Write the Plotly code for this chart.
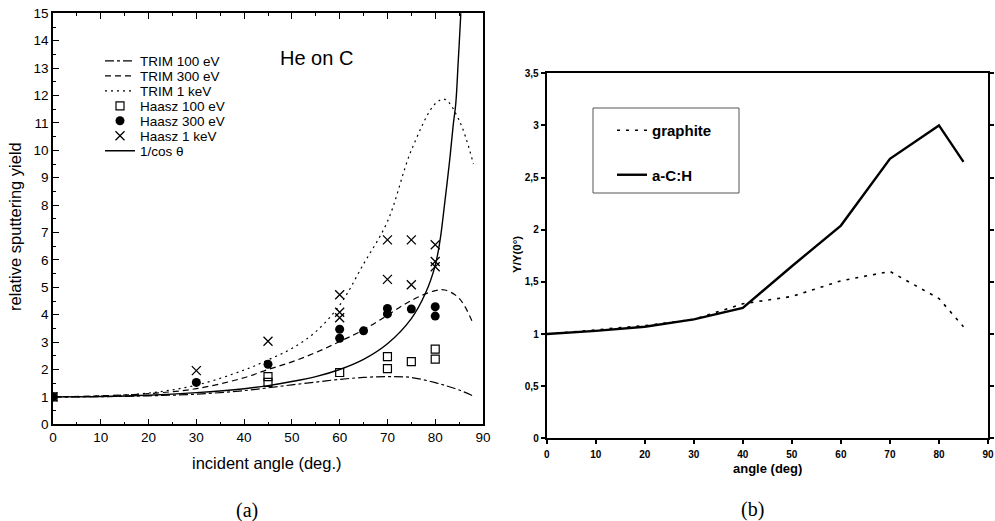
import plotly.graph_objects as go

# ---------------- data: panel (a) ----------------
trim_angles = [0, 10, 20, 30, 40, 45, 50, 55, 60, 65, 70, 75, 80, 82, 85, 88]
trim_100 = [1.0, 1.01, 1.04, 1.10, 1.23, 1.33, 1.44, 1.54, 1.64, 1.71, 1.74, 1.71, 1.52, 1.42, 1.25, 1.03]
trim_300 = [1.0, 1.04, 1.12, 1.30, 1.70, 2.00, 2.28, 2.62, 3.02, 3.45, 3.98, 4.52, 4.88, 4.90, 4.60, 3.65]
trim_1k = [1.0, 1.03, 1.14, 1.43, 1.98, 2.35, 2.77, 3.38, 4.35, 5.85, 7.40, 10.0, 11.7, 11.86, 11.1, 9.5]

cos_angles = [0, 10, 20, 30, 40, 45, 50, 55, 60, 65, 70, 75, 78, 80, 81, 82, 83, 83.75, 84.3, 84.8, 85.3, 85.6]
cos_values = [1.0, 1.015, 1.06, 1.155, 1.30, 1.41, 1.56, 1.74, 2.0, 2.37, 2.94, 3.86, 4.8, 5.8, 6.7, 8.1, 9.6, 10.9, 11.7, 13.2, 14.8, 16.0]

haasz100_x = [0, 45, 45, 60, 70, 70, 75, 80, 80]
haasz100_y = [1.0, 1.74, 1.53, 1.89, 2.47, 2.03, 2.29, 2.74, 2.38]
haasz300_x = [0, 30, 45, 60, 60, 65, 70, 70, 75, 80, 80]
haasz300_y = [1.0, 1.53, 2.19, 3.47, 3.14, 3.41, 4.23, 4.03, 4.21, 4.29, 3.95]
haasz1k_x = [0, 30, 45, 60, 60, 60, 70, 70, 75, 75, 80, 80, 80]
haasz1k_y = [1.0, 1.96, 3.03, 4.73, 4.09, 3.89, 6.73, 5.29, 6.73, 5.09, 6.55, 5.94, 5.75]

# ---------------- data: panel (b) ----------------
b_angles = [0, 10, 20, 30, 40, 50, 60, 70, 80, 85]
graphite = [1.0, 1.04, 1.08, 1.14, 1.29, 1.36, 1.51, 1.60, 1.34, 1.07]
ach = [1.0, 1.03, 1.07, 1.14, 1.25, 1.65, 2.04, 2.68, 3.0, 2.65]

W, H = 995, 521
FONT = "Liberation Sans"


def px_x(p):
    return p / W


def px_y(p):
    return (H - p) / H


fig = go.Figure()

# left-panel legend rows (one legend per row to reproduce the tight spacing)
left_legend_ids = ["legend", "legend3", "legend4", "legend5", "legend6", "legend7", "legend8"]
left_legend_rows = [61, 76, 91, 106, 121, 136, 151]

line_common = dict(color="black", width=1.2)
fig.add_trace(go.Scatter(x=trim_angles, y=trim_100, mode="lines", name="TRIM 100 eV",
                         line=dict(dash="dashdot", shape="spline", **line_common),
                         xaxis="x", yaxis="y", legend=left_legend_ids[0]))
fig.add_trace(go.Scatter(x=trim_angles, y=trim_300, mode="lines", name="TRIM 300 eV",
                         line=dict(dash="6px,4px", shape="spline", **line_common),
                         xaxis="x", yaxis="y", legend=left_legend_ids[1]))
fig.add_trace(go.Scatter(x=trim_angles, y=trim_1k, mode="lines", name="TRIM 1 keV",
                         line=dict(dash="2px,4px", shape="spline", **line_common),
                         xaxis="x", yaxis="y", legend=left_legend_ids[2]))
fig.add_trace(go.Scatter(x=haasz100_x, y=haasz100_y, mode="markers", name="Haasz 100 eV",
                         marker=dict(symbol="square-open", size=8, color="black", line=dict(width=1.2)),
                         xaxis="x", yaxis="y", legend=left_legend_ids[3]))
fig.add_trace(go.Scatter(x=haasz300_x, y=haasz300_y, mode="markers", name="Haasz 300 eV",
                         marker=dict(symbol="circle", size=9, color="black"),
                         xaxis="x", yaxis="y", legend=left_legend_ids[4]))
fig.add_trace(go.Scatter(x=haasz1k_x, y=haasz1k_y, mode="markers", name="Haasz 1 keV",
                         marker=dict(symbol="x-thin-open", size=9, color="black", line=dict(width=1.3, color="black")),
                         xaxis="x", yaxis="y", legend=left_legend_ids[5]))
fig.add_trace(go.Scatter(x=cos_angles, y=cos_values, mode="lines", name="1/cos θ",
                         line=dict(shape="spline", color="black", width=1.4),
                         xaxis="x", yaxis="y", legend=left_legend_ids[6]))

fig.add_trace(go.Scatter(x=b_angles, y=graphite, mode="lines", name="graphite",
                         line=dict(color="black", width=1.6, dash="3px,6px"),
                         xaxis="x2", yaxis="y2", legend="legend2", legendgroup="g1"))
fig.add_trace(go.Scatter(x=b_angles, y=ach, mode="lines", name="a-C:H",
                         line=dict(color="black", width=2.4),
                         xaxis="x2", yaxis="y2", legend="legend2", legendgroup="g2"))

annotations = [
    dict(text="He on C", x=55.2, y=13.37, xref="x", yref="y", showarrow=False,
         xanchor="center", yanchor="middle",
         font=dict(family=FONT, size=20, color="black")),
    dict(text="incident angle (deg.)", x=px_x(267), y=px_y(463), xref="paper", yref="paper",
         xanchor="center", yanchor="middle",
         showarrow=False, font=dict(family=FONT, size=16.5, color="black")),
    dict(text="relative sputtering yield", x=px_x(15), y=px_y(227), xref="paper", yref="paper",
         xanchor="center", yanchor="middle",
         showarrow=False, textangle=-90, font=dict(family=FONT, size=16.5, color="black")),
    dict(text="angle (deg)", x=px_x(767), y=px_y(468), xref="paper", yref="paper",
         xanchor="center", yanchor="middle",
         showarrow=False, font=dict(family=FONT, size=13, color="black", weight="bold")),
    dict(text="Y/Y(0°)", x=px_x(517), y=px_y(255), xref="paper", yref="paper",
         xanchor="center", yanchor="middle",
         showarrow=False, textangle=-90, font=dict(family=FONT, size=11.5, color="black", weight="bold")),
    dict(text="(a)", x=px_x(247), y=px_y(510), xref="paper", yref="paper",
         xanchor="center", yanchor="middle",
         showarrow=False, font=dict(family="Liberation Serif", size=20, color="black")),
    dict(text="(b)", x=px_x(752), y=px_y(509), xref="paper", yref="paper",
         xanchor="center", yanchor="middle",
         showarrow=False, font=dict(family="Liberation Serif", size=20, color="black")),
]

# frame of the right-hand legend
shapes = [
    dict(type="rect", xref="paper", yref="paper",
         x0=px_x(593), x1=px_x(739), y0=px_y(193), y1=px_y(108),
         line=dict(color="#555", width=1), fillcolor="rgba(0,0,0,0)", layer="below"),
]

layout = dict(
    width=W, height=H,
    margin=dict(l=0, r=0, t=0, b=0),
    paper_bgcolor="white", plot_bgcolor="white",
    separators=",.",
    font=dict(family=FONT, color="black"),
    showlegend=True,
    annotations=annotations,
    shapes=shapes,
    xaxis=dict(domain=[px_x(53), px_x(483)], range=[0, 90], dtick=10, tick0=0,
               ticks="inside", ticklen=6, tickwidth=1.2, tickcolor="black",
               minor=dict(dtick=5, ticks="inside", ticklen=3, tickwidth=1.2, tickcolor="black"),
               showline=True, linecolor="black", linewidth=1.5, mirror="ticks",
               showgrid=False, zeroline=False, tickfont=dict(size=13.5, family=FONT),
               automargin=False, anchor="y"),
    yaxis=dict(domain=[px_y(424.3), px_y(13.3)], range=[0, 15], dtick=1, tick0=0,
               ticks="inside", ticklen=6, tickwidth=1.2, tickcolor="black",
               minor=dict(dtick=0.5, ticks="inside", ticklen=3, tickwidth=1.2, tickcolor="black"),
               showline=True, linecolor="black", linewidth=1.5, mirror=True,
               showgrid=False, zeroline=False, tickfont=dict(size=13.5, family=FONT),
               automargin=False, anchor="x"),
    xaxis2=dict(domain=[px_x(546.7), px_x(988)], range=[0, 90], dtick=10, tick0=0,
                ticks="outside", ticklen=4, tickwidth=1.5, tickcolor="black",
                showline=True, linecolor="black", linewidth=2, mirror=True,
                showgrid=False, zeroline=False, ticklabelstandoff=2,
                tickfont=dict(size=10, family=FONT, weight="bold"),
                automargin=False, anchor="y2"),
    yaxis2=dict(domain=[px_y(438.3), px_y(73.3)], range=[0, 3.5], dtick=0.5, tick0=0,
                ticks="outside", ticklen=4, tickwidth=1.5, tickcolor="black",
                showline=True, linecolor="black", linewidth=2, mirror="ticks",
                showgrid=False, zeroline=False,
                tickfont=dict(size=10, family=FONT, weight="bold"),
                automargin=False, anchor="x2"),
    legend2=dict(x=px_x(612), y=px_y(114), xanchor="left", yanchor="top",
                 bgcolor="rgba(0,0,0,0)", borderwidth=0,
                 font=dict(size=15, family=FONT, color="black", weight="bold"),
                 traceorder="grouped", tracegroupgap=22),
)

for lid, row in zip(left_legend_ids, left_legend_rows):
    layout[lid] = dict(x=px_x(100), y=px_y(row), xanchor="left", yanchor="middle",
                       bgcolor="rgba(0,0,0,0)", borderwidth=0,
                       font=dict(size=13.5, family=FONT, color="black"))

fig.update_layout(**layout)

fig.write_html("out.html")
